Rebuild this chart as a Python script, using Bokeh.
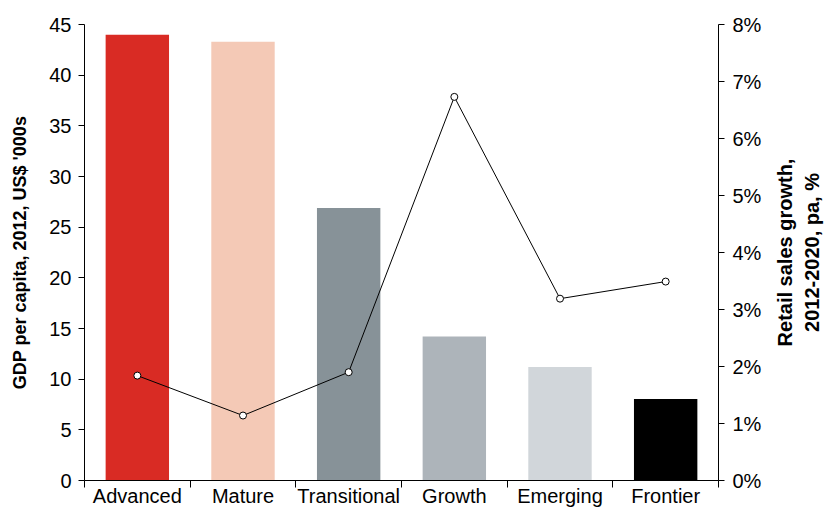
from bokeh.plotting import figure
from bokeh.layouts import row
from bokeh.models import (Range1d, LinearAxis, FixedTicker, PrintfTickFormatter,
                          ColumnDataSource)
from bokeh.embed import file_html
from bokeh.resources import INLINE

# Market segments and their values
segments = ["Advanced", "Mature", "Transitional", "Growth", "Emerging", "Frontier"]
gdp_per_capita = [44.0, 43.3, 26.9, 14.2, 11.2, 8.05]          # US$ '000s, 2012
retail_growth = [1.84, 1.14, 1.90, 6.73, 3.19, 3.49]           # % p.a., 2012-2020
bar_colors = ["#D92B24", "#F4C9B6", "#879298", "#ADB4BA", "#D1D6DA", "#000000"]

FONT = "Liberation Sans"
LEFT_TITLE = "GDP per capita, 2012, US$ '000s"
RIGHT_TITLE = "Retail sales growth,\n2012-2020, pa, %"

centers = [i + 0.5 for i in range(len(segments))]
src = ColumnDataSource(dict(x=centers, seg=segments, gdp=gdp_per_capita,
                            growth=retail_growth, color=bar_colors))

p = figure(width=764, height=513, output_backend="svg", toolbar_location=None,
           x_range=Range1d(0, len(segments)), y_range=Range1d(0, 45),
           min_border_left=84, min_border_right=46, min_border_top=24,
           min_border_bottom=31, x_axis_type=None, y_axis_type=None)
p.outline_line_color = None
p.xgrid.visible = False
p.ygrid.visible = False
p.background_fill_color = "white"
p.border_fill_color = "white"

p.extra_y_ranges = {"pct": Range1d(0, 8)}

# Bars: GDP per capita
p.vbar(x="x", top="gdp", width=0.6, color="color", source=src, line_color=None)

# Line: retail sales growth on the secondary axis
p.line(x="x", y="growth", source=src, y_range_name="pct",
       line_color="black", line_width=1)
p.scatter(x="x", y="growth", source=src, y_range_name="pct", size=7,
          fill_color="white", line_color="black", line_width=1)

def style(ax):
    ax.axis_line_color = "black"
    ax.axis_line_width = 1
    ax.major_tick_line_color = "black"
    ax.major_tick_in = 0
    ax.major_tick_out = 6
    ax.minor_tick_line_color = None
    ax.major_label_text_font = FONT
    ax.major_label_text_font_size = "20px"
    ax.major_label_text_color = "black"
    ax.axis_label_text_font = FONT
    ax.axis_label_text_font_style = "bold"
    ax.axis_label_text_font_size = "18px"
    ax.axis_label_text_color = "black"

# Bottom axis: labels at segment centres, tick marks at boundaries
xax = LinearAxis(ticker=FixedTicker(ticks=centers,
                                    minor_ticks=list(range(len(segments) + 1))))
style(xax)
xax.axis_label = None
xax.axis_label_standoff = 0
xax.major_tick_line_color = None
xax.major_tick_out = 0
xax.minor_tick_line_color = "black"
xax.minor_tick_in = 0
xax.minor_tick_out = 7
xax.major_label_standoff = -3
xax.major_label_overrides = {c: s for c, s in zip(centers, segments)}
p.add_layout(xax, "below")

# Left axis: GDP per capita
yax = LinearAxis(ticker=FixedTicker(ticks=list(range(0, 46, 5))),
                 axis_label=LEFT_TITLE)
style(yax)
yax.major_label_standoff = 7
yax.axis_label_standoff = 16
p.add_layout(yax, "left")

# Right axis: retail sales growth
rax = LinearAxis(y_range_name="pct", ticker=FixedTicker(ticks=list(range(0, 9))),
                 formatter=PrintfTickFormatter(format="%d%%"))
style(rax)
rax.axis_label = None
rax.axis_label_standoff = 0
rax.major_label_standoff = 8
p.add_layout(rax, "right")

# Narrow strip on the right carrying the secondary title (reads bottom to top)
side = figure(width=60, height=513, output_backend="svg", toolbar_location=None,
              x_range=Range1d(0, 1), y_range=Range1d(0, 1),
              min_border_left=59, min_border_right=0, min_border_top=0,
              min_border_bottom=33, x_axis_type=None, y_axis_type=None)
side.outline_line_color = None
side.xgrid.visible = False
side.ygrid.visible = False
side.border_fill_color = "white"
side.background_fill_color = "white"
tax = LinearAxis(ticker=FixedTicker(ticks=[]), axis_label=RIGHT_TITLE)
style(tax)
tax.axis_label_text_font_size = "20px"
tax.axis_line_color = None
tax.major_tick_line_color = None
tax.major_tick_out = 0
tax.major_label_standoff = 0
tax.axis_label_standoff = 1
side.add_layout(tax, "left")

layout = row(p, side, spacing=0)
open("out.html", "w").write(file_html(layout, INLINE))
